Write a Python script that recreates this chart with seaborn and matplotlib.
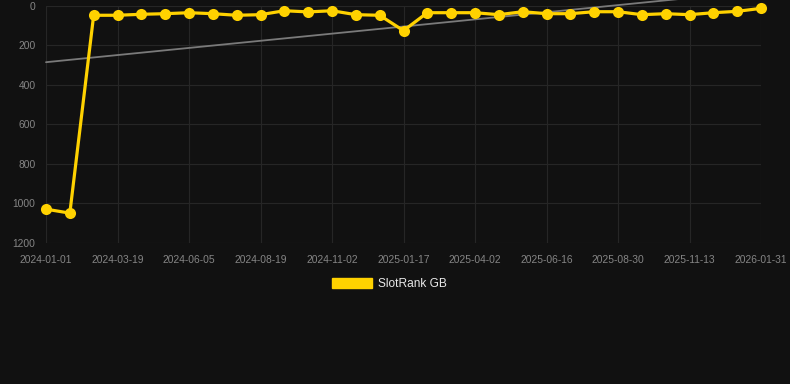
import matplotlib
matplotlib.use("Agg")
import matplotlib.pyplot as plt
import seaborn as sns
import numpy as np
import pandas as pd
from matplotlib.patches import Patch

# ---- data ----
point_index = list(range(31))
rank_values = [1030, 1050, 47, 47, 42, 39, 34, 39, 47, 44, 24, 30, 24, 44, 47,
               125, 34, 34, 34, 44, 29, 39, 39, 29, 29, 44, 39, 44, 34, 27, 12]
tick_positions = list(range(0, 31, 3))
tick_labels = ["2024-01-01", "2024-03-19", "2024-06-05", "2024-08-19", "2024-11-02",
               "2025-01-17", "2025-04-02", "2025-06-16", "2025-08-30", "2025-11-13",
               "2026-01-31"]
y_ticks = [0, 200, 400, 600, 800, 1000, 1200]
series_name = "SlotRank GB"

df = pd.DataFrame({"idx": point_index, "rank": rank_values})

BG = "#111111"
YEL = "#ffd200"
GRID = "#262626"
TICKC = "#858585"

sns.set_theme(style="dark")
plt.rcParams["font.family"] = ["Liberation Sans", "DejaVu Sans"]

fig = plt.figure(figsize=(7.9, 3.84), dpi=100, facecolor=BG)
ax = fig.add_axes([46/790, 1-242.7/384, (761-46)/790, (242.7-6)/384])
ax.set_facecolor(BG)

# trend line (linear regression of the series)
sns.regplot(data=df, x="idx", y="rank", scatter=False, ci=None, ax=ax,
            line_kws=dict(color="#7a7a7a", lw=1.3, zorder=2))

sns.lineplot(data=df, x="idx", y="rank", ax=ax, color=YEL, lw=2.3,
             marker="o", markersize=8, markeredgewidth=0, zorder=3)
for ln in ax.lines:
    ln.set_clip_on(False)

ax.set_xlim(0, 30)
ax.set_ylim(1200, 0)
ax.set_xticks(tick_positions)
ax.set_xticklabels(tick_labels)
ax.set_yticks(y_ticks)
ax.set_xlabel("")
ax.set_ylabel("")

ax.grid(True, color=GRID, lw=0.8)
for s in ax.spines.values():
    s.set_visible(False)
ax.tick_params(axis="both", colors=GRID, length=6, width=0.8,
               labelcolor=TICKC, labelsize=7.4)
ax.tick_params(axis="y", pad=1.5)
ax.tick_params(axis="x", pad=3)

handle = Patch(facecolor=YEL, edgecolor=YEL)
leg = fig.legend([handle], [series_name], loc="center",
                 bbox_to_anchor=(389.5/790, 1-284/384), frameon=False,
                 fontsize=8.6, handlelength=3.35, handleheight=0.9,
                 handletextpad=0.5)
for t in leg.get_texts():
    t.set_color("#e8e8e8")

fig.savefig("out.png", dpi=100, facecolor=BG)
